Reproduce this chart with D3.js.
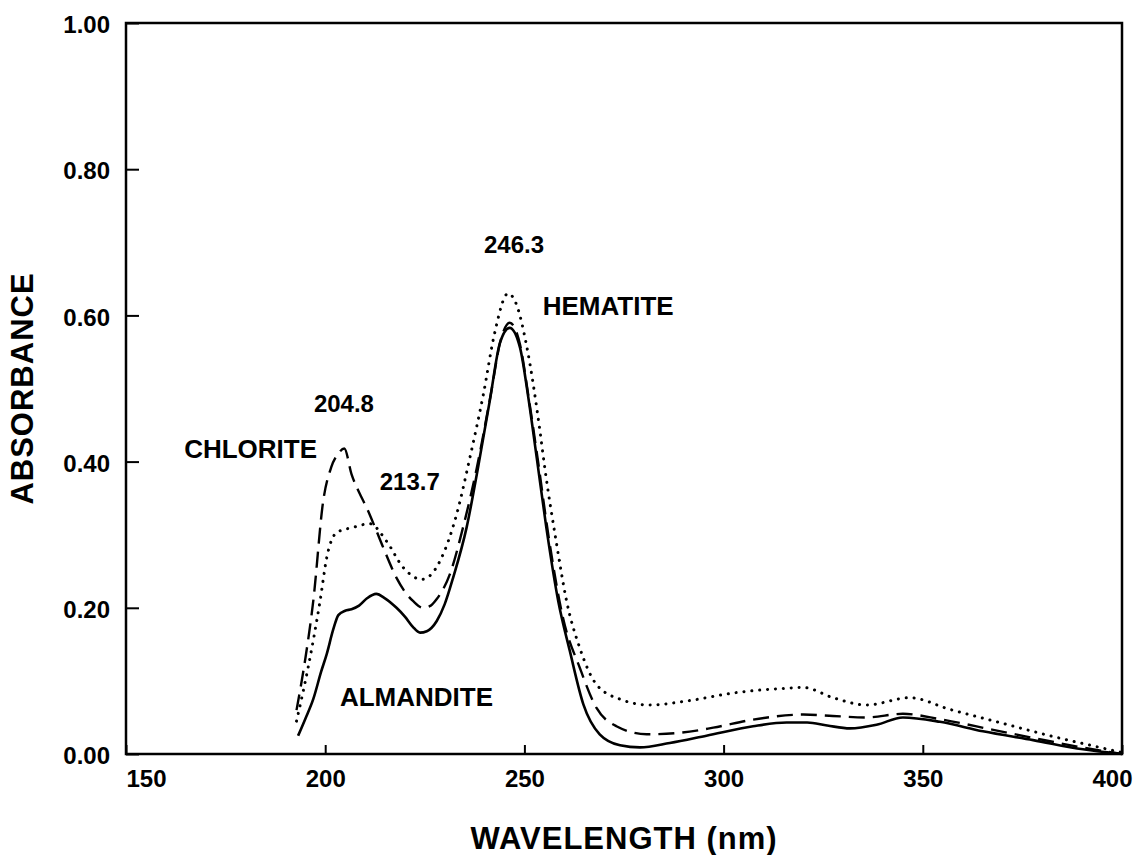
<!DOCTYPE html>
<html>
<head>
<meta charset="utf-8">
<script src="https://cdn.jsdelivr.net/npm/d3@7/dist/d3.min.js"></script>
<style>
  html, body { margin: 0; padding: 0; background: #fff; }
  svg { display: block; font-family: "Liberation Sans", Arial, Helvetica, sans-serif; font-weight: bold; }
</style>
</head>
<body>
<svg id="chart" width="1147" height="855"></svg>
<script>
// UV absorbance spectra of three minerals
const almanditeWl = [193.2, 195, 197, 199, 200.4, 202, 203.3, 205, 206.6, 208.5, 210.5, 212.8, 215, 217.9, 220, 222, 223.8, 225.5, 228, 230, 232.1, 235.5, 238.3, 241.3, 243.9, 246.3, 248.9, 251, 253.1, 255.5, 258.5, 261.4, 264.8, 268.9, 274, 279, 286.5, 295.7, 307.4, 315.8, 321, 326, 331.7, 338.4, 345, 354.3, 365.1, 377.7, 390.2, 400];
const almanditeAbs = [0.025, 0.048, 0.075, 0.113, 0.137, 0.170, 0.190, 0.196, 0.198, 0.203, 0.213, 0.219, 0.213, 0.200, 0.188, 0.174, 0.166, 0.168, 0.182, 0.205, 0.241, 0.310, 0.390, 0.483, 0.563, 0.583, 0.556, 0.487, 0.405, 0.310, 0.209, 0.141, 0.068, 0.027, 0.012, 0.009, 0.015, 0.025, 0.038, 0.043, 0.043, 0.039, 0.035, 0.040, 0.050, 0.044, 0.031, 0.019, 0.0064, 0.0];

const chloriteWl = [192.8, 195, 197, 199.5, 201.5, 203.3, 204.8, 206.6, 208.5, 210.4, 212.5, 214.6, 217.9, 220, 222.1, 224.6, 226.5, 228, 231.3, 234.6, 238, 241.5, 244, 246.3, 248.9, 251, 253.3, 256, 259.7, 263.9, 268.1, 273.1, 280.7, 289, 297.4, 307.4, 320, 327.4, 335.9, 345, 354, 367.7, 377.7, 390, 400];
const chloriteAbs = [0.060, 0.130, 0.209, 0.346, 0.392, 0.411, 0.418, 0.383, 0.358, 0.337, 0.310, 0.282, 0.241, 0.222, 0.209, 0.200, 0.203, 0.212, 0.246, 0.310, 0.390, 0.490, 0.565, 0.590, 0.560, 0.490, 0.405, 0.300, 0.186, 0.118, 0.063, 0.038, 0.027, 0.029, 0.036, 0.047, 0.054, 0.052, 0.050, 0.055, 0.048, 0.033, 0.022, 0.009, 0.0];

const hematiteWl = [192.8, 195.7, 198.7, 200.4, 202.9, 207, 211.2, 215.4, 219.6, 224.2, 226.5, 228.8, 233, 236.3, 239.7, 242.5, 245.9, 248, 250.5, 253.9, 255.1, 258, 260.6, 263.9, 268.1, 274, 281.5, 290.7, 303.2, 315.8, 320, 327.5, 335.9, 346.7, 356.8, 369.3, 381.9, 394.4, 400];
const hematiteAbs = [0.045, 0.118, 0.209, 0.269, 0.303, 0.310, 0.315, 0.291, 0.255, 0.239, 0.245, 0.264, 0.328, 0.405, 0.492, 0.575, 0.630, 0.615, 0.560, 0.442, 0.392, 0.290, 0.209, 0.145, 0.095, 0.075, 0.067, 0.0725, 0.084, 0.090, 0.091, 0.077, 0.067, 0.077, 0.061, 0.043, 0.025, 0.009, 0.002];

const xTicks = [150, 200, 250, 300, 350, 400];
const yTicks = [0.0, 0.2, 0.4, 0.6, 0.8, 1.0];

const labelTexts = ["246.3", "HEMATITE", "204.8", "CHLORITE", "213.7", "ALMANDITE"];
const labelWl = [247.4, 254.6, 204.7, 164.6, 213.7, 203.7];
const labelAbs = [0.685, 0.600, 0.468, 0.405, 0.361, 0.066];

const svg = d3.select("#chart");
const plotLeft = 126, plotRight = 1122, plotTop = 23, plotBottom = 754;

const x = d3.scaleLinear().domain([150, 400]).range([plotLeft, plotRight]);
const y = d3.scaleLinear().domain([0, 1]).range([plotBottom, plotTop]);

// plot frame
svg.append("rect")
  .attr("x", plotLeft).attr("y", plotTop)
  .attr("width", plotRight - plotLeft).attr("height", plotBottom - plotTop)
  .attr("fill", "none").attr("stroke", "#000").attr("stroke-width", 2.5);

// x axis with inward ticks
const gx = svg.append("g")
  .attr("transform", `translate(0,${plotBottom})`)
  .call(d3.axisBottom(x).tickValues(xTicks).tickSize(-9).tickPadding(16).tickFormat(d3.format("d")));
gx.select(".domain").remove();
gx.selectAll(".tick line").attr("stroke", "#000").attr("stroke-width", 2);
gx.selectAll(".tick text")
  .attr("font-size", 24).attr("font-family", "Liberation Sans, Arial, sans-serif").attr("font-weight", "bold").attr("fill", "#000")
  .attr("dx", d => d === 150 ? 20 : (d === 400 ? -10 : 0));

// y axis with inward ticks
const gy = svg.append("g")
  .attr("transform", `translate(${plotLeft},0)`)
  .call(d3.axisLeft(y).tickValues(yTicks).tickSize(-13).tickPadding(16).tickFormat(d3.format(".2f")));
gy.select(".domain").remove();
gy.selectAll(".tick line").attr("stroke", "#000").attr("stroke-width", 2);
gy.selectAll(".tick text")
  .attr("font-size", 24).attr("font-family", "Liberation Sans, Arial, sans-serif").attr("font-weight", "bold").attr("fill", "#000")
  .attr("dy", "0.4em");

// axis titles
svg.append("text")
  .attr("x", (plotLeft + plotRight) / 2).attr("y", 849)
  .attr("text-anchor", "middle").attr("font-size", 31).attr("letter-spacing", 1)
  .text("WAVELENGTH (nm)");
svg.append("text")
  .attr("transform", `translate(33,${(plotTop + plotBottom) / 2}) rotate(-90)`)
  .attr("text-anchor", "middle").attr("font-size", 31).attr("letter-spacing", 1)
  .text("ABSORBANCE");

// spectra
const line = d3.line().x(d => x(d[0])).y(d => y(d[1])).curve(d3.curveMonotoneX);
const series = [
  { wl: almanditeWl, abs: almanditeAbs, dash: null, width: 2.6, cap: "butt" },
  { wl: chloriteWl, abs: chloriteAbs, dash: "16,8", width: 2.4, cap: "butt" },
  { wl: hematiteWl, abs: hematiteAbs, dash: "0.1,7.8", width: 3, cap: "round" }
];
series.forEach(s => {
  svg.append("path")
    .datum(d3.zip(s.wl, s.abs))
    .attr("d", line)
    .attr("fill", "none")
    .attr("stroke", "#000")
    .attr("stroke-width", s.width)
    .attr("stroke-linecap", s.cap)
    .attr("stroke-linejoin", "round")
    .attr("stroke-dasharray", s.dash);
});

// peak and mineral annotations
const anchors = ["middle", "start", "middle", "start", "start", "start"];
const sizes = [24, 26, 24, 26, 24, 26];
labelTexts.forEach((t, i) => {
  svg.append("text")
    .attr("x", x(labelWl[i])).attr("y", y(labelAbs[i]))
    .attr("text-anchor", anchors[i])
    .attr("font-size", sizes[i])
    .text(t);
});
</script>
</body>
</html>
